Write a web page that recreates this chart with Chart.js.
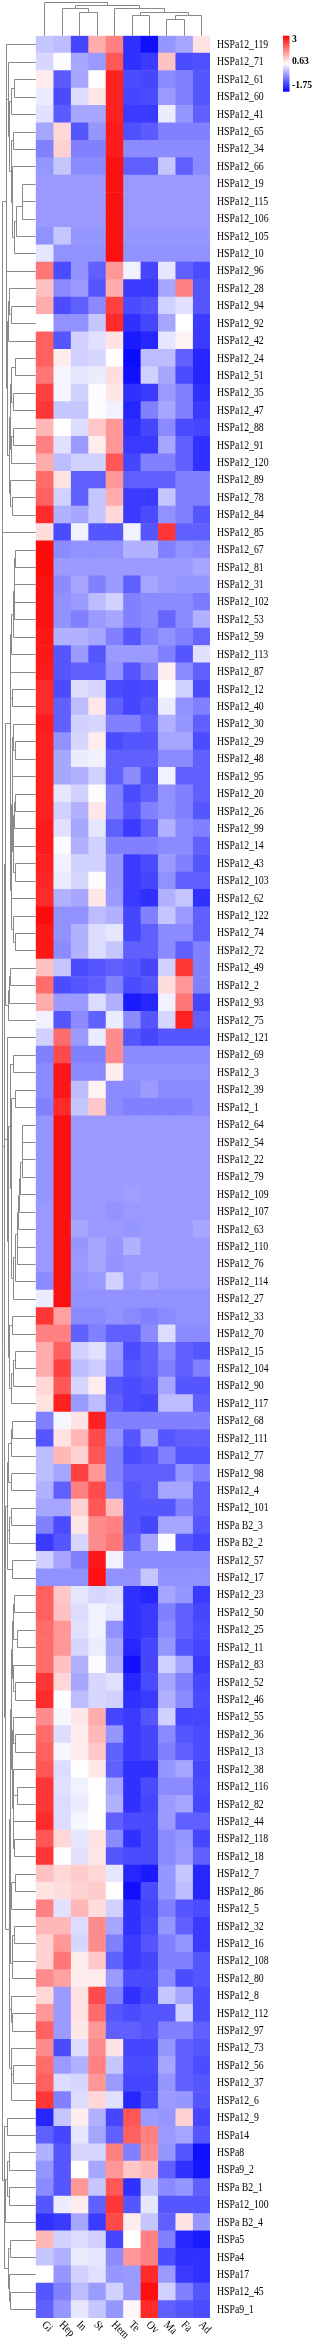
<!DOCTYPE html>
<html><head><meta charset="utf-8">
<script src="https://cdn.jsdelivr.net/npm/chart.js@4/dist/chart.umd.min.js"></script>
<style>html,body{margin:0;padding:0;background:#fff;}canvas{display:block;}</style>
</head><body>
<canvas id="c" width="312" height="2346"></canvas>
<script>
const columns = ['Gi','Hep','In','St','Hem','Te','Ov','Ma','Fa','Ad'];
const rowLabels = ['HSPa12_119','HSPa12_71','HSPa12_61','HSPa12_60','HSPa12_41','HSPa12_65','HSPa12_34','HSPa12_66','HSPa12_19','HSPa12_115',
'HSPa12_106','HSPa12_105','HSPa12_10','HSPa12_96','HSPa12_28','HSPa12_94','HSPa12_92','HSPa12_42','HSPa12_24','HSPa12_51',
'HSPa12_35','HSPa12_47','HSPa12_88','HSPa12_91','HSPa12_120','HSPa12_89','HSPa12_78','HSPa12_84','HSPa12_85','HSPa12_67',
'HSPa12_81','HSPa12_31','HSPa12_102','HSPa12_53','HSPa12_59','HSPa12_113','HSPa12_87','HSPa12_12','HSPa12_40','HSPa12_30',
'HSPa12_29','HSPa12_48','HSPa12_95','HSPa12_20','HSPa12_26','HSPa12_99','HSPa12_14','HSPa12_43','HSPa12_103','HSPa12_62',
'HSPa12_122','HSPa12_74','HSPa12_72','HSPa12_49','HSPa12_2','HSPa12_93','HSPa12_75','HSPa12_121','HSPa12_69','HSPa12_3',
'HSPa12_39','HSPa12_1','HSPa12_64','HSPa12_54','HSPa12_22','HSPa12_79','HSPa12_109','HSPa12_107','HSPa12_63','HSPa12_110',
'HSPa12_76','HSPa12_114','HSPa12_27','HSPa12_33','HSPa12_70','HSPa12_15','HSPa12_104','HSPa12_90','HSPa12_117','HSPa12_68',
'HSPa12_111','HSPa12_77','HSPa12_98','HSPa12_4','HSPa12_101','HSPa B2_3','HSPa B2_2','HSPa12_57','HSPa12_17','HSPa12_23',
'HSPa12_50','HSPa12_25','HSPa12_11','HSPa12_83','HSPa12_52','HSPa12_46','HSPa12_55','HSPa12_36','HSPa12_13','HSPa12_38',
'HSPa12_116','HSPa12_82','HSPa12_44','HSPa12_118','HSPa12_18','HSPa12_7','HSPa12_86','HSPa12_5','HSPa12_32','HSPa12_16',
'HSPa12_108','HSPa12_80','HSPa12_8','HSPa12_112','HSPa12_97','HSPa12_73','HSPa12_56','HSPa12_37','HSPa12_6','HSPa12_9',
'HSPa14','HSPa8','HSPa9_2','HSPa B2_1','HSPa12_100','HSPa B2_4','HSPa5','HSPa4','HSPa17','HSPa12_45','HSPa9_1'];

// row-scaled expression (z-score) per tissue column, rows in the order of rowLabels
const valGi = [0.1,0.25,0.8,0.45,0.35,-0.2,-0.55,-0.35,-0.32,-0.32,
-0.32,-0.4,0.4,1.9,1.2,1.4,0.63,2.1,2.1,1.9,
2.4,2.5,1.3,1.8,1.4,2.0,2.1,2.6,0.95,2.9,
2.9,2.85,2.85,2.85,2.8,2.8,2.75,2.6,2.6,2.75,
2.7,2.7,2.7,2.7,2.7,2.75,2.75,2.7,2.65,2.6,
2.9,2.8,2.8,1.2,2.0,1.4,0.5,0.2,-0.55,-0.45,
-0.45,-0.55,-0.35,-0.35,-0.35,-0.35,-0.35,-0.32,-0.32,-0.32,
-0.32,-0.45,0.45,2.5,1.8,1.4,1.4,1.0,0.9,-0.55,
-0.95,0.0,0.0,-0.1,-0.2,-0.55,-1.2,0.2,-0.4,2.1,
2.1,2.0,2.0,2.0,2.5,2.6,1.7,2.0,2.1,2.2,
2.5,2.5,2.6,2.2,2.5,1.2,0.9,1.8,1.3,1.05,
1.05,1.7,1.0,1.6,2.1,1.7,2.0,2.1,2.5,-1.4,
-0.85,-0.1,-0.35,-0.45,-0.95,-1.3,1.3,0.1,0.63,-0.95,-0.85];
const valHep = [0.0,0.6,-0.9,-1.05,-0.9,1.0,1.05,0.1,-0.32,-0.32,
-0.32,0.1,-0.4,-1.05,-0.45,-1.05,-0.4,-0.95,0.8,0.55,
0.55,0.1,0.63,0.35,0.0,0.9,0.2,-0.1,-1.05,-0.45,
-0.3,-0.45,-0.4,-0.4,-0.1,-0.95,-0.95,-1.05,-0.85,-0.85,
-0.4,-0.2,-0.2,0.4,0.2,0.35,0.6,0.5,0.45,-0.1,
-0.4,-0.4,-0.45,0.1,-1.05,-0.3,-0.95,2.0,2.3,2.8,
2.8,2.6,2.85,2.85,2.85,2.85,2.85,2.85,2.85,2.85,
2.85,2.85,2.85,1.5,1.8,2.1,2.4,2.2,2.7,0.55,
0.9,1.3,-0.2,-0.85,-0.2,-1.05,-0.95,-0.2,-0.4,1.15,
1.2,1.6,1.6,1.2,1.0,0.63,0.55,0.3,0.55,0.3,
0.35,0.3,0.3,1.0,0.63,1.0,0.95,0.35,1.3,1.6,
1.9,1.5,-0.3,-0.3,-0.3,-1.05,-0.3,0.3,-0.55,0.1,
-1.1,-0.95,-0.95,-0.95,0.45,-1.2,0.2,-0.1,-0.35,-0.55,-0.35];
const valIn = [-1.1,-0.2,-0.2,0.3,-0.2,-0.95,-0.55,-0.45,-0.32,-0.32,
-0.32,-0.35,-0.4,-0.4,-0.32,-0.85,-0.4,0.2,0.2,0.4,
0.2,0.1,0.3,-0.3,0.2,-0.85,-0.85,-0.2,0.5,-0.4,
-0.3,-0.2,-0.3,-0.55,-0.1,-0.3,-0.85,0.3,0.0,0.2,
0.25,0.45,-0.1,0.2,-0.1,-0.2,-0.1,0.2,0.25,-0.2,
-0.4,-0.1,-0.1,-1.05,-0.95,-0.3,-0.45,-0.3,-0.55,-0.45,
0.0,0.1,-0.32,-0.32,-0.32,-0.32,-0.32,-0.32,-0.2,-0.35,
-0.32,-0.35,-0.4,-0.45,-0.85,0.2,0.0,0.25,-0.3,0.9,
1.3,1.05,2.4,1.8,1.05,0.85,0.25,-0.55,-0.4,0.4,
0.3,0.35,0.25,-0.1,-0.2,0.0,0.85,0.8,0.8,0.63,
0.5,0.45,0.55,0.4,0.35,1.1,1.05,1.3,0.3,0.25,
0.8,0.8,0.9,0.9,0.85,0.3,-0.1,0.25,0.3,0.8,
0.4,0.25,0.63,1.6,0.8,-0.2,0.3,0.45,0.2,0.0,0.4];
const valSt = [1.4,-0.3,0.65,0.85,-0.2,-0.35,-0.55,-0.45,-0.32,-0.32,
-0.32,-0.35,-0.4,-0.85,-0.95,-0.45,0.1,0.35,0.25,0.45,
0.6,0.6,1.15,0.8,0.2,-0.85,0.1,0.1,-0.95,-0.4,
-0.3,-0.55,0.0,-0.3,-0.2,-0.95,-0.85,0.25,0.85,0.25,
0.8,0.5,0.2,0.6,0.85,0.4,0.2,0.2,0.6,0.85,
0.0,0.3,0.3,-0.95,-0.85,0.3,-0.85,0.45,-0.55,-0.45,
0.75,1.15,-0.32,-0.32,-0.32,-0.32,-0.32,-0.32,-0.32,-0.2,
-0.2,-0.32,-0.4,-0.45,-0.55,0.35,0.15,0.8,0.0,2.7,
2.3,2.2,1.6,2.3,2.2,1.7,1.7,2.8,2.85,0.25,
0.5,0.5,0.45,0.6,0.25,0.25,1.4,1.3,1.15,0.85,
0.63,0.63,0.63,0.9,0.85,1.0,1.1,0.95,1.7,1.7,
1.15,0.8,2.3,2.0,1.6,1.7,1.8,1.6,1.0,-0.1,
-0.2,0.25,-0.2,0.1,-0.85,-1.2,0.2,0.4,0.35,-0.3,0.1];
const valHem = [1.8,2.2,2.7,2.7,2.7,2.75,2.75,2.85,2.85,2.85,
2.85,2.85,2.85,1.6,1.4,2.4,2.6,0.9,0.65,0.95,
0.85,0.5,1.6,1.6,2.2,1.6,1.4,1.0,-0.95,-0.4,
-0.3,-0.3,0.2,-0.2,-0.55,-0.3,-0.4,-1.05,-0.85,-0.55,
-1.05,-0.85,-0.85,-0.55,-0.55,-0.85,-0.55,-0.35,-0.35,-0.3,
-0.1,0.4,0.1,-0.85,-0.55,-0.1,0.45,1.7,1.7,0.8,
-0.45,-0.45,-0.32,-0.32,-0.32,-0.32,-0.32,-0.38,-0.32,-0.35,
-0.38,0.2,-0.4,-0.4,-0.85,-0.3,-0.4,-0.95,-0.85,-0.55,
-0.4,-0.55,-0.55,-0.45,1.25,1.8,1.9,0.5,-0.4,0.3,
0.4,-0.4,-0.2,-0.1,0.35,0.2,-1.1,-0.35,-0.85,-0.85,
-0.2,-0.1,-0.85,-0.45,-0.95,0.4,0.63,0.2,-0.2,-0.55,
-0.85,-0.3,-0.55,-0.95,-0.85,0.9,0.1,-0.3,0.35,-1.1,
-0.85,1.8,1.6,2.2,2.5,2.3,-1.1,-0.45,-0.35,0.2,-0.35];
const valTe = [-1.3,-1.3,-1.05,-1.1,-1.2,-1.0,-0.45,-0.85,-0.32,-0.32,
-0.32,-0.35,-0.4,0.5,-1.2,-1.05,-1.3,-1.5,-1.65,-1.6,
-1.3,-1.4,-1.3,-1.2,-1.1,-0.85,-1.2,-1.2,0.5,-0.1,
-0.3,-0.85,-0.55,-0.55,-0.95,-0.3,-0.95,-1.1,-1.1,-0.55,
-0.95,-0.85,-0.45,-1.05,-0.95,-1.2,-0.55,-1.2,-1.2,-1.2,
-1.1,-1.1,-0.85,-0.95,-1.05,-1.5,-0.45,-0.95,-0.45,-0.4,
-0.45,-0.55,-0.32,-0.32,-0.32,-0.32,-0.27,-0.32,-0.35,-0.1,
-0.32,-0.32,-0.4,-0.45,-0.85,-1.05,-0.95,-1.05,-1.05,-0.55,
-0.95,-1.05,-0.85,-0.95,-0.95,-0.95,-0.85,-0.45,-0.4,-1.3,
-1.3,-1.3,-1.4,-1.6,-1.4,-1.3,-1.2,-1.2,-1.2,-1.3,
-1.3,-1.3,-1.05,-1.3,-1.05,-1.4,-1.6,-1.3,-1.3,-1.2,
-1.2,-1.05,-1.3,-1.05,-0.85,-1.1,-1.05,-1.1,-1.4,2.2,
2.1,-0.55,1.15,-1.3,-0.95,0.8,0.63,1.6,-0.3,-0.3,0.7];
const valOv = [-1.6,-1.2,-1.1,-1.05,-1.2,-0.9,-0.45,-0.85,-0.32,-0.32,
-0.32,-0.35,-0.4,-1.1,-1.2,-0.95,-1.1,-1.4,0.0,0.2,
-1.2,-0.55,-1.1,-1.2,-0.55,-0.85,-1.2,-1.05,-0.95,-0.1,
-0.3,-0.2,-0.45,-0.45,-0.55,-0.3,-0.55,-1.05,-0.95,-0.85,
-0.95,-0.85,-0.95,-0.85,-0.55,-0.85,-0.55,-1.05,-1.1,-1.3,
-0.55,-0.85,-0.85,-1.1,-0.95,-1.4,-0.95,-1.1,-0.45,-0.4,
-0.3,-0.55,-0.32,-0.32,-0.32,-0.32,-0.32,-0.32,-0.32,-0.32,
-0.32,-0.2,-0.4,-0.55,-0.45,-0.85,-0.85,-0.95,-1.1,-0.55,
-0.3,-0.95,-0.85,-0.85,-0.95,-1.1,-0.2,-0.45,0.1,-1.4,
-1.2,-1.2,-1.1,-1.1,-1.05,-1.2,-0.95,-1.1,-1.1,-1.3,
-1.05,-1.1,-1.05,-1.05,-1.05,-1.5,-1.05,-1.1,-1.05,-0.95,
-1.1,-1.05,-1.1,-0.95,-0.95,-1.1,-1.05,-1.1,-1.05,-0.3,
1.8,1.7,1.3,0.1,0.4,0.1,1.8,1.8,2.6,2.85,2.6];
const valMa = [-0.35,1.2,-0.45,-0.3,0.45,-0.55,-0.45,0.1,-0.32,-0.32,
-0.32,-0.35,-0.4,0.4,-0.2,0.2,-0.2,0.4,0.0,-0.2,
-0.3,-0.2,-0.45,-0.2,-0.55,-0.85,0.1,-0.4,2.5,-0.55,
-0.3,-0.3,-0.45,-0.8,-0.4,-0.55,0.8,0.65,0.45,-0.1,
-0.2,-0.45,0.5,-0.4,-0.4,-0.1,-0.45,-0.3,-0.4,-0.1,
0.1,-0.45,-0.45,0.2,0.95,0.5,0.25,-0.95,-0.45,-0.4,
-0.45,-0.55,-0.32,-0.32,-0.32,-0.32,-0.32,-0.32,-0.32,-0.32,
-0.32,-0.32,-0.4,-0.45,0.3,-0.45,-0.55,-0.2,0.0,-0.55,
-0.95,-0.55,-0.85,-0.2,-0.95,-0.2,0.6,-0.45,-0.4,-0.2,
-0.55,-0.45,-0.35,0.2,-0.2,-0.1,0.2,-0.45,-0.55,-0.35,
-0.45,-0.3,-0.3,-0.45,-0.45,-0.35,-0.35,-0.55,-0.35,-0.55,
-0.55,-0.45,0.1,-0.95,-0.55,-0.35,-0.2,-0.35,-0.3,-0.35,
-0.3,-0.35,-0.85,-0.45,-0.95,-0.85,-0.55,-1.05,-0.3,0.2,-0.85];
const valFa = [-0.2,-1.05,-0.55,-0.55,-0.35,-0.55,-0.45,-0.85,-0.32,-0.32,
-0.32,-0.35,-0.4,-0.85,1.8,0.35,0.63,0.75,-0.85,-1.05,
-0.55,-0.55,-1.05,-0.85,-0.85,-0.55,-0.55,-0.55,-0.85,-0.4,
-0.3,-0.35,-0.45,-0.45,-0.55,-0.95,-0.45,0.2,-0.4,-0.35,
-0.2,-0.45,-0.85,-0.55,-0.55,-0.45,-0.45,-0.55,-0.85,0.1,
-0.3,-0.45,-0.85,2.5,1.6,1.9,2.7,-0.95,-0.45,-0.4,
-0.45,-0.55,-0.32,-0.32,-0.32,-0.32,-0.32,-0.32,-0.32,-0.32,
-0.32,-0.32,-0.4,-0.4,-0.45,-0.85,-0.85,-0.95,0.0,-0.55,
-0.85,-0.95,-0.35,-0.2,-0.55,-0.2,-0.95,-0.45,-0.4,-0.35,
-0.85,-0.85,-0.95,-0.2,-0.55,-0.45,-1.1,-0.95,-0.85,-0.2,
-0.45,-0.2,-0.85,-0.35,-0.3,0.1,0.0,-0.95,-0.85,-0.35,
-0.55,-1.05,-0.2,0.2,-0.55,-0.85,-0.85,-0.85,-0.35,1.05,
-0.2,-0.95,-1.3,-0.35,-0.95,0.9,-1.4,-1.3,-1.2,-0.55,-0.95];
const valAd = [0.9,-1.0,-0.95,-0.95,-0.85,-0.55,-0.45,-0.45,-0.32,-0.32,
-0.32,-0.35,-0.4,-1.05,-0.95,-0.95,-1.2,-1.2,-1.4,-1.4,
-1.3,-1.2,-1.1,-1.3,-1.3,-0.55,-0.55,-0.95,-0.85,-0.45,
-0.2,-0.35,-0.6,-0.1,-0.8,0.35,-0.85,-1.05,-0.55,-0.85,
-1.05,-0.85,-0.85,-0.85,-0.95,-0.55,-0.85,-0.95,-0.85,-1.3,
-0.85,-0.85,-0.55,-0.55,-0.55,-1.1,-0.85,-0.95,-0.45,-0.4,
-0.45,-0.45,-0.32,-0.32,-0.32,-0.32,-0.32,-0.32,-0.2,-0.32,
-0.32,-0.32,-0.4,-0.4,-0.45,-0.95,-0.55,-0.95,-0.85,-0.55,
-0.85,-0.95,-0.55,-0.85,-0.85,-0.95,-1.1,-0.45,-0.4,-1.2,
-1.1,-1.05,-1.1,-1.2,-1.1,-1.05,-1.1,-1.05,-1.05,-1.1,
-1.05,-1.1,-0.85,-1.1,-0.85,-1.4,-1.4,-1.05,-1.2,-1.2,
-0.95,-0.95,-1.05,-1.05,-0.85,-0.95,-1.05,-0.95,-0.95,-1.1,
-0.95,-1.6,-1.55,-0.85,-0.95,-0.35,-1.5,-1.3,-1.3,-0.95,-1.05];

// colour scale breaks (legend tick labels)
const legendTicks = [3, 0.63, -1.75];

// column dendrogram (hclust style merge list: negative = leaf, positive = earlier merge; relative heights)
const colMerge = [[-3,-4],[-2,1],[-8,-9],[-6,-7],[3,-10],[4,5],[-5,6],[2,7],[-1,8]];
const colMergeHeight = [0.705,0.835,0.51,0.61,0.61,0.705,0.835,0.90,1.0];

const colValues = [valGi,valHep,valIn,valSt,valHem,valTe,valOv,valMa,valFa,valAd];
const LO = legendTicks[2], MID = legendTicks[1], HI = legendTicks[0];
function heatColor(v){
  let r,g,b;
  if (v <= MID){ const t = Math.max(0,(v-LO)/(MID-LO)); r = g = Math.round(255*t); b = 255; }
  else { const t = Math.min(1,(v-MID)/(HI-MID)); r = 255; g = b = Math.round(255*(1-t)); }
  return 'rgb('+r+','+g+','+b+')';
}

const SERIF = "'Liberation Serif','Times New Roman',serif";
const LINE = '#8a8a8a';

function drawText(ctx, txt, x, y, font, sx, angle){
  ctx.save(); ctx.translate(x,y); if(angle) ctx.rotate(angle); ctx.scale(sx,1);
  ctx.font = font; ctx.fillText(txt,0,0); ctx.restore();
}

function buildRowTree(){
  const V = rowLabels.map((_,i)=>colValues.map(c=>c[i]));
  const d = (a,b)=>{let s=0;for(let k=0;k<a.length;k++){const q=a[k]-b[k];s+=q*q;}return Math.sqrt(s);};
  let cl = V.map((v,i)=>({members:[i],pos:i,h:0,kids:null}));
  const dist=(A,B)=>{let s=0;for(const a of A.members)for(const b of B.members)s+=d(V[a],V[b]);return s/(A.members.length*B.members.length);};
  while(cl.length>1){
    let best=Infinity,bi=0;
    for(let k=0;k<cl.length-1;k++){const dd=dist(cl[k],cl[k+1]);if(dd<best){best=dd;bi=k;}}
    const A=cl[bi],B=cl[bi+1];
    cl.splice(bi,2,{members:A.members.concat(B.members),pos:(A.pos+B.pos)/2,h:Math.max(best,A.h,B.h),kids:[A,B]});
  }
  return cl[0];
}
const rowTree = buildRowTree();

const heatPlugin = {
  id:'heatExtras',
  afterDraw(chart){
    const ctx = chart.ctx, ca = chart.chartArea;
    const xs = chart.scales.x, ys = chart.scales.y;
    // row labels
    ctx.fillStyle = '#000'; ctx.textAlign='left'; ctx.textBaseline='middle';
    rowLabels.forEach((lab,i)=>drawText(ctx, lab, ca.right+7, ys.getPixelForValue(i)+0.5, '11.5px '+SERIF, 0.85, 0));
    // column labels, rotated
    columns.forEach((lab,i)=>drawText(ctx, lab, xs.getPixelForValue(i+0.5)-1, ca.bottom+5, '11.5px '+SERIF, 0.88, Math.PI/4));
    // row dendrogram
    ctx.strokeStyle = LINE; ctx.lineWidth = 1;
    const maxH = rowTree.h;
    const leafX = ca.left, rootX = 2;
    const hx = h => Math.round(leafX - 14 - (leafX - 14 - rootX)*Math.sqrt(h/maxH)) + 0.5;
    const yp = p => Math.round(ys.getPixelForValue(p)) + 0.5;
    ctx.beginPath();
    (function walk(n){
      if(!n.kids) return;
      const x = hx(n.h);
      const [A,B] = n.kids;
      for(const k of n.kids){
        const kx = k.kids ? hx(k.h) : leafX;
        ctx.moveTo(x, yp(k.pos)); ctx.lineTo(kx, yp(k.pos));
        walk(k);
      }
      ctx.moveTo(x, yp(A.pos)); ctx.lineTo(x, yp(B.pos));
    })(rowTree);
    ctx.stroke();
    // column dendrogram
    const topY = ca.top, span = ca.top - 2;
    const hy = h => Math.round(topY - span*h) + 0.5;
    const nodes = [];
    const info = ref => ref < 0 ? {x: xs.getPixelForValue(-ref-0.5), y: topY} : nodes[ref-1];
    ctx.beginPath();
    colMerge.forEach((m,i)=>{
      const a = info(m[0]), b = info(m[1]);
      const y = hy(colMergeHeight[i]);
      const ax = Math.round(a.x)+0.5, bx = Math.round(b.x)+0.5;
      ctx.moveTo(ax, a.y); ctx.lineTo(ax, y); ctx.lineTo(bx, y); ctx.lineTo(bx, b.y);
      nodes.push({x:(a.x+b.x)/2, y:y});
    });
    ctx.stroke();
    // colour legend
    const lx = 283, lw = 6.5, lt = ca.top, lb = ca.top + 56;
    const grad = ctx.createLinearGradient(0, lt, 0, lb);
    grad.addColorStop(0, heatColor(HI)); grad.addColorStop((HI-MID)/(HI-LO), heatColor(MID)); grad.addColorStop(1, heatColor(LO));
    ctx.fillStyle = grad; ctx.fillRect(lx, lt, lw, lb-lt);
    ctx.fillStyle = '#000'; ctx.textBaseline='middle';
    legendTicks.forEach(v=>{
      let y = lt + (HI-v)/(HI-LO)*(lb-lt);
      y = Math.min(Math.max(y, lt+3.5), lb-6.5);
      if (v===MID) y -= 2;
      drawText(ctx, String(v), lx+lw+2.5, y, 'bold 11px '+SERIF, 0.88, 0);
    });
  }
};

const datasets = columns.map((col,ci)=>({
  label: col,
  data: rowLabels.map(()=>[ci, ci+1]),
  backgroundColor: colValues[ci].map(heatColor),
  borderWidth: 0,
  barPercentage: 1,
  categoryPercentage: 1,
  grouped: false
}));

new Chart(document.getElementById('c'), {
  type: 'bar',
  data: { labels: rowLabels, datasets },
  options: {
    indexAxis: 'y',
    responsive: false,
    animation: false,
    devicePixelRatio: 1,
    layout: { padding: { left: 35.7, right: 102, top: 35.7, bottom: 28 } },
    scales: {
      x: { type:'linear', min:0, max:10, display:false },
      y: { type:'category', display:false, offset:true }
    },
    plugins: { legend:{display:false}, tooltip:{enabled:false} }
  },
  plugins: [heatPlugin]
});
</script>
</body></html>
